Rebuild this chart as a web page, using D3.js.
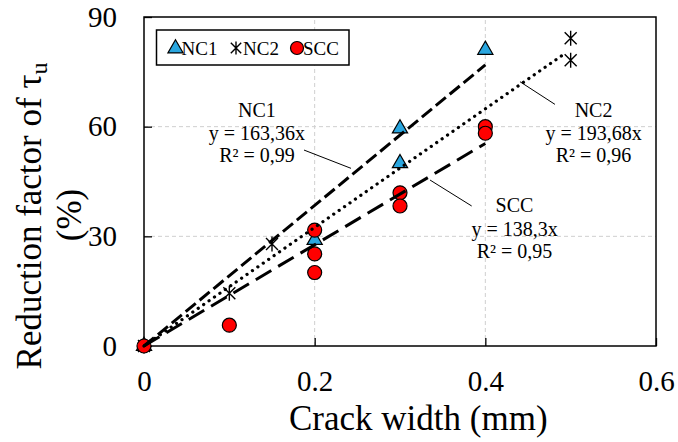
<!DOCTYPE html>
<html><head><meta charset="utf-8">
<script src="https://cdn.jsdelivr.net/npm/d3@7"></script>
<style>html,body{margin:0;padding:0;background:#fff;}</style>
</head><body>
<svg id="c" width="678" height="442" font-family="Liberation Serif"></svg>
<script>
// ---- data ----
const nc1X = [0, 0.2, 0.3, 0.3, 0.4];
const nc1Y = [0, 29, 59.5, 50, 81];
const nc2X = [0, 0.1, 0.15, 0.5, 0.5];
const nc2Y = [0, 14.4, 27.9, 84.2, 78.2];
const sccX = [0, 0.1, 0.2, 0.2, 0.2, 0.3, 0.3, 0.4, 0.4];
const sccY = [0, 5.7, 31.7, 25.2, 20.1, 41.9, 38.3, 60, 58.2];
// fitted lines as drawn: [x0, y0, x1, y1]
const fitNC1 = [0, 0, 0.4, 76.9];
const fitNC2 = [0, 0, 0.495, 80.3];
const fitSCC = [0, 0, 0.4, 55.4];
const xTicks = [0, 0.2, 0.4, 0.6];
const yTicks = [0, 30, 60, 90];
const labels = [
  {name:"NC1", lines:["NC1","y = 163,36x","R² = 0,99"]},
  {name:"NC2", lines:["NC2","y = 193,68x","R² = 0,96"]},
  {name:"SCC", lines:["SCC","y = 138,3x","R² = 0,95"]}
];

const FONT = "'Liberation Serif', 'Times New Roman', Times, serif";
const svg = d3.select("#c");
const x = d3.scaleLinear().domain([0,0.6]).range([144,656]);
const y = d3.scaleLinear().domain([0,90]).range([346,17]);

// gridlines
const g = svg.append("g");
g.selectAll(".gx").data(xTicks.filter(t=>t>0&&t<0.6)).enter().append("line")
  .attr("x1",d=>x(d)).attr("x2",d=>x(d)).attr("y1",y(0)).attr("y2",y(90))
  .attr("stroke","#cfcfcf").attr("stroke-width",1).attr("stroke-dasharray","4,3");
g.selectAll(".gy").data(yTicks.filter(t=>t>0&&t<90)).enter().append("line")
  .attr("x1",x(0)).attr("x2",x(0.6)).attr("y1",d=>y(d)).attr("y2",d=>y(d))
  .attr("stroke","#cfcfcf").attr("stroke-width",1).attr("stroke-dasharray","4,3");

// axes
const xAxis = d3.axisBottom(x).tickValues(xTicks).tickSizeInner(-8).tickSizeOuter(0).tickPadding(45)
  .tickFormat(d=>d===0?"0":d3.format(".1f")(d));
const gx = svg.append("g").attr("transform",`translate(0,${y(0)})`).call(xAxis);
gx.attr("font-family",FONT);
gx.select(".domain").remove();
gx.selectAll("line").attr("stroke","#000").attr("stroke-width",1.3);
gx.selectAll("text").attr("font-size",29).attr("fill","#000").attr("font-family",FONT).attr("dy","0");

const yAxis = d3.axisLeft(y).tickValues(yTicks).tickSizeInner(-8).tickSizeOuter(0).tickPadding(27);
const gy = svg.append("g").attr("transform",`translate(${x(0)},0)`).call(yAxis);
gy.attr("font-family",FONT);
gy.select(".domain").remove();
gy.selectAll("line").attr("stroke","#000").attr("stroke-width",1.3);
gy.selectAll("text").attr("font-size",29).attr("fill","#000").attr("font-family",FONT);

// frame
svg.append("rect").attr("x",x(0)).attr("y",y(90)).attr("width",x(0.6)-x(0)).attr("height",y(0)-y(90))
  .attr("fill","none").attr("stroke","#000").attr("stroke-width",1.5);

// markers
const mk = svg.append("g");
const tri = d3.symbol().type(d3.symbolTriangle).size(100);
mk.selectAll(".t").data(nc1X.map((v,i)=>[v,nc1Y[i]])).enter().append("path")
  .attr("d",tri).attr("transform",d=>`translate(${x(d[0])},${y(d[1])})`)
  .attr("fill","#2aa6df").attr("stroke","#000").attr("stroke-width",1.2);
function star(sel,s){
  sel.append("path").attr("d",`M${-s*0.8},${-s*0.8}L${s*0.8},${s*0.8}M${-s*0.8},${s*0.8}L${s*0.8},${-s*0.8}M0,${-s}L0,${s}`)
    .attr("stroke","#000").attr("stroke-width",1.4).attr("fill","none");
}
mk.selectAll(".s").data(nc2X.map((v,i)=>[v,nc2Y[i]])).enter().append("g")
  .attr("transform",d=>`translate(${x(d[0])},${y(d[1])})`).each(function(){star(d3.select(this),7.5);});
mk.selectAll(".c").data(sccX.map((v,i)=>[v,sccY[i]])).enter().append("circle")
  .attr("cx",d=>x(d[0])).attr("cy",d=>y(d[1])).attr("r",7)
  .attr("fill","#ff0000").attr("stroke","#000").attr("stroke-width",1.2);

// fit lines
function fit(f,dash,w,cap){
  svg.append("line").attr("x1",x(f[0])).attr("y1",y(f[1])).attr("x2",x(f[2])).attr("y2",y(f[3]))
    .attr("stroke","#000").attr("stroke-width",w).attr("stroke-dasharray",dash).attr("stroke-linecap",cap);
}
fit(fitNC1,"13,5",3,"butt");
fit(fitNC2,"0.1,6.5",3.2,"round");
fit(fitSCC,"18,8",3,"butt");

// annotations (data coordinates)
const ann = [
  {cx:0.1324, cy:[64.6,58.3,52.2], lead:[[0.1875,53.6],[0.2426,48.6]]},
  {cx:0.5268, cy:[64.6,58.3,52.2], lead:[[0.4406,72.3],[0.4816,66.1]]},
  {cx:0.4342, cy:[38.6,32.0,26.1], lead:[[0.3352,45.4],[0.384,38.3]]}
];
labels.forEach((l,i)=>{
  const a = ann[i];
  l.lines.forEach((t,j)=>{
    svg.append("text").attr("x",x(a.cx)).attr("y",y(a.cy[j])).attr("dy","0.35em")
      .attr("text-anchor","middle").attr("font-family",FONT).attr("font-size",20).text(t);
  });
  svg.append("line").attr("x1",x(a.lead[0][0])).attr("y1",y(a.lead[0][1]))
    .attr("x2",x(a.lead[1][0])).attr("y2",y(a.lead[1][1])).attr("stroke","#000").attr("stroke-width",1);
});

// legend
const lg = svg.append("g").attr("font-family",FONT);
lg.append("rect").attr("x",156.5).attr("y",30).attr("width",192.5).attr("height",35)
  .attr("fill","#fff").attr("stroke","#000").attr("stroke-width",1.5);
lg.append("path").attr("d",tri).attr("transform","translate(175.5,48.5)").attr("fill","#2aa6df").attr("stroke","#000").attr("stroke-width",1.2);
lg.append("text").attr("x",181.5).attr("y",54.5).attr("font-family",FONT).attr("font-size",19).text("NC1");
const ls = lg.append("g").attr("transform","translate(236,48)"); star(ls,6.5);
lg.append("text").attr("x",243).attr("y",54.5).attr("font-family",FONT).attr("font-size",19).text("NC2");
lg.append("circle").attr("cx",297).attr("cy",48).attr("r",6.5).attr("fill","#ff0000").attr("stroke","#000").attr("stroke-width",1.2);
lg.append("text").attr("x",303).attr("y",54.5).attr("font-family",FONT).attr("font-size",19).text("SCC");

// axis titles
svg.append("text").attr("x",289).attr("y",430).attr("text-anchor","start").attr("font-family",FONT).attr("font-size",35).text("Crack width (mm)");
const yt = svg.append("text").attr("transform","translate(41,216) rotate(-90)").attr("text-anchor","middle").attr("font-family",FONT).attr("font-size",35);
yt.append("tspan").text("Reduction factor of τ");
yt.append("tspan").attr("font-size",24).attr("dy",6).text("u");
svg.append("text").attr("transform","translate(81,215) rotate(-90)").attr("text-anchor","middle").attr("font-family",FONT).attr("font-size",35).text("(%)");
</script>
</body></html>
